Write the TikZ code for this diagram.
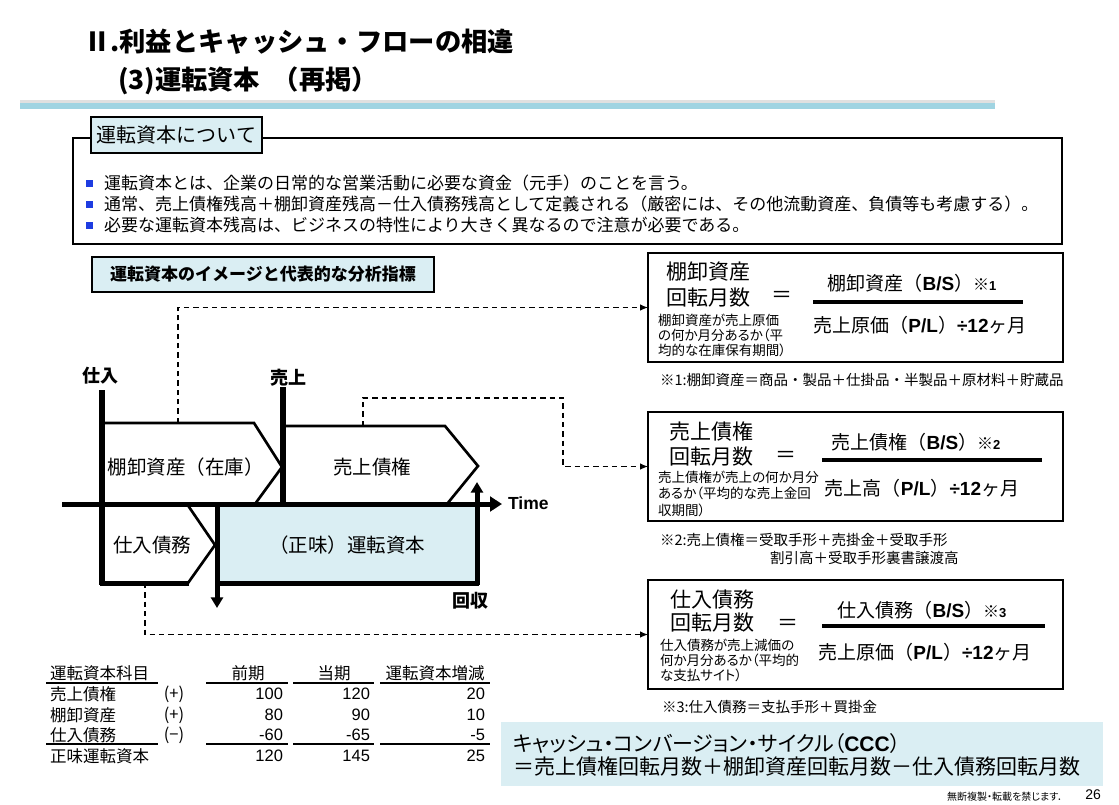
\documentclass[tikz,border=0pt]{standalone}
\usepackage{fontspec}
\setmainfont{Noto Sans CJK JP}
\newfontfamily\jpp{Noto Sans CJK JP}[RawFeature=+palt]
\newfontfamily\arial{Liberation Sans}
\usetikzlibrary{arrows.meta}
\definecolor{lb}{RGB}{218,238,243}
\definecolor{band}{RGB}{160,212,226}
\definecolor{bul}{RGB}{30,60,225}
\newcommand\fsz[2]{\fontsize{\dimexpr #1pt*3/4\relax}{\dimexpr #2pt*3/4\relax}\selectfont}
\begin{document}
\begin{tikzpicture}[x=0.75pt,y=-0.75pt,
  every node/.style={inner sep=0pt,outer sep=0pt},
  outl/.style={line width=2pt, line join=miter},
  heavy/.style={line width=3.75pt},
  conn/.style={line width=0.9pt, dash pattern=on 4pt off 3pt, -{Latex[length=6pt,width=5pt]}},
  rbox/.style={draw, line width=1.1pt, minimum width=311.25pt, minimum height=81.75pt},
  big/.style={font=\fsz{21}{25}},
  small/.style={font=\jpp\fsz{13.5}{15}, anchor=west},
  frac/.style={font=\fsz{19}{23}},
  note/.style={font=\fsz{14.5}{17}, anchor=west},
  lbl/.style={font=\fsz{19.5}{24}},
  tab/.style={font=\fsz{16.5}{19}},
  num/.style={font=\arial\fsz{16.5}{19}, anchor=east},
  bul/.style={fill=bul, minimum size=5.25pt},
  btxt/.style={anchor=west, font=\fsz{17}{20}},
  ttl/.style={anchor=west, font=\bfseries\fsz{26.3}{30}},
]
\useasboundingbox (0,0) rectangle (1119,804);
% title
\node[ttl] (title1) at (84,42) {Ⅱ.利益とキャッシュ・フローの相違};
\node[ttl] (title2) at (118,81) {(3)運転資本 \hspace{0.25em}（再掲）};
\fill[black!12] (20,100) rectangle (995,103);
\fill[band] (20,103) rectangle (995,109);
% about frame
\draw[line width=1pt] (73,138) rectangle (1062,244);
\node[draw, fill=lb, line width=1.2pt, minimum width=128.25pt, minimum height=27pt, font=\fsz{20}{24}] (about) at (176.5,135) {運転資本について};
\node[bul] (b1) at (89.5,183) {};
\node[bul] (b2) at (89.5,204) {};
\node[bul] (b3) at (89.5,225) {};
\node[btxt] (t1) at (104,183) {運転資本とは、企業の日常的な営業活動に必要な資金（元手）のことを言う。};
\node[btxt] (t2) at (104,204) {通常、売上債権残高＋棚卸資産残高－仕入債務残高として定義される（厳密には、その他流動資産、負債等も考慮する）。};
\node[btxt] (t3) at (104,225) {必要な運転資本残高は、ビジネスの特性により大きく異なるので注意が必要である。};
% image title
\node[draw, fill=lb, line width=1.2pt, minimum width=256.5pt, minimum height=26.25pt, font=\bfseries\fsz{17}{20}] (imgttl) at (263,274.5) {運転資本のイメージと代表的な分析指標};
% right boxes
\node[rbox] (box1) at (855.5,307.5) {};
\node[rbox] (box2) at (855.5,466.5) {};
\node[rbox] (box3) at (855.5,634.5) {};
% connectors
\coordinate (invtop) at (178,423);
\coordinate (artop) at (363,426);
\coordinate (arturn) at (563,398);
\coordinate (apbot) at (145,583);
\draw[conn] (invtop) |- (box1.west);
\draw[conn] (artop) |- (arturn) |- (box2.west);
\draw[conn] (apbot) |- (box3.west);
% timeline
\node[fill=lb, minimum width=195pt, minimum height=59.25pt] (netwc) at (347,543.5) {};
\draw[outl, fill=white] (102,423) -- (254,423) -- (282,467) -- (255,504);
\draw[outl, fill=white] (283,426) -- (445,426) -- (478,466) -- (447,504);
\draw[outl, fill=white] (187,504) -- (215,545) -- (188,583);
\coordinate (axL) at (62,504);
\coordinate (axR) at (502,504);
\draw[heavy, -{Triangle[length=9pt,width=11pt]}] (axL) -- (axR);
\draw[heavy] (100,583) -- (189,583);
\draw[heavy] (215,583) -- (479,583);
\draw[heavy, -{Triangle[length=8pt,width=9pt]}] (217,502) -- (217,608);
\draw[heavy, -{Triangle[length=8pt,width=9pt]}] (477,585) -- (477,482);
\draw[line width=4.5pt] (102,390) -- (102,585);
\draw[line width=4pt] (283,387) -- (283,506);
\node[font=\bfseries\fsz{18}{22}] (shiire) at (100,376) {仕入};
\node[font=\bfseries\fsz{18}{22}] (uriage) at (288,378) {売上};
\node[lbl] (inv) at (185.5,467) {棚卸資産（在庫）};
\node[lbl] (ar) at (372,467) {売上債権};
\node[lbl] (ap) at (152,545) {仕入債務};
\node[lbl] (nwc) at (347,545) {（正味）運転資本};
\node[anchor=west, font=\arial\bfseries\fsz{17.5}{20}] (time) at (508,503) {Time};
\node[font=\bfseries\fsz{18}{22}] (kaishu) at (470,601) {回収};
% box1 content
\node[big] (k1a) at (708,272) {棚卸資産};
\node[big] (k1b) at (708,298) {回転月数};
\node[big] (k1e) at (782,297) {＝};
\node[small] (k1s1) at (658,320) {棚卸資産が売上原価};
\node[small] (k1s2) at (658,335) {の何か月分あるか（平};
\node[small] (k1s3) at (658,350) {均的な在庫保有期間）};
\node[frac] (k1n) at (912,283) {棚卸資産（{\arial\bfseries B/S}）{\fsz{16}{18}※}{\arial\bfseries\fsz{13}{15}1}};
\draw[line width=3pt] (813,302) -- (1023,302);
\node[frac] (k1d) at (920,325) {売上原価（{\arial\bfseries P/L}）{\arial\bfseries ÷12}ヶ月};
\node[note] (n1) at (660,380) {※1:棚卸資産＝商品・製品＋仕掛品・半製品＋原材料＋貯蔵品};
% box2 content
\node[big] (k2a) at (711,432) {売上債権};
\node[big] (k2b) at (711,457) {回転月数};
\node[big] (k2e) at (786,457) {＝};
\node[small] (k2s1) at (658,477) {売上債権が売上の何か月分};
\node[small] (k2s2) at (658,493.5) {あるか（平均的な売上金回};
\node[small] (k2s3) at (658,510) {収期間）};
\node[frac] (k2n) at (916,442) {売上債権（{\arial\bfseries B/S}）{\fsz{16}{18}※}{\arial\bfseries\fsz{13}{15}2}};
\draw[line width=3pt] (822,460) -- (1042,460);
\node[frac] (k2d) at (922,488) {売上高（{\arial\bfseries P/L}）{\arial\bfseries ÷12}ヶ月};
\node[note] (n2a) at (660,540) {※2:売上債権＝受取手形＋売掛金＋受取手形};
\node[note] (n2b) at (770,558) {割引高＋受取手形裏書譲渡高};
% box3 content
\node[big] (k3a) at (712,600) {仕入債務};
\node[big] (k3b) at (712,623) {回転月数};
\node[big] (k3e) at (788,625) {＝};
\node[small] (k3s1) at (660,645) {仕入債務が売上減価の};
\node[small] (k3s2) at (660,660) {何か月分あるか（平均的};
\node[small] (k3s3) at (660,675) {な支払サイト）};
\node[frac] (k3n) at (922,610) {仕入債務（{\arial\bfseries B/S}）{\fsz{16}{18}※}{\arial\bfseries\fsz{13}{15}3}};
\draw[line width=3pt] (822,626) -- (1045,626);
\node[frac] (k3d) at (925,652) {売上原価（{\arial\bfseries P/L}）{\arial\bfseries ÷12}ヶ月};
\node[note] (n3) at (662,707) {※3:仕入債務＝支払手形＋買掛金};
% table
\node[tab, anchor=west] (h0) at (50,673) {運転資本科目};
\node[tab] (h1) at (248,673) {前期};
\node[tab] (h2) at (334,673) {当期};
\node[tab] (h3) at (435,673) {運転資本増減};
\foreach \yy in {683,744} {
  \draw[line width=1.6pt] (46,\yy) -- (158,\yy);
  \draw[line width=1.6pt] (206,\yy) -- (288,\yy);
  \draw[line width=1.6pt] (293,\yy) -- (374,\yy);
  \draw[line width=1.6pt] (380,\yy) -- (490,\yy);
}
\node[tab, anchor=west] (r1) at (50,694) {売上債権};
\node[tab, anchor=west] (r2) at (50,715) {棚卸資産};
\node[tab, anchor=west] (r3) at (50,735) {仕入債務};
\node[tab, anchor=west] (r4) at (50,756) {正味運転資本};
\node[tab] (s1) at (174,694) {(+)};
\node[tab] (s2) at (174,715) {(+)};
\node[tab] (s3) at (174,735) {(−)};
\node[num] (a1) at (283,694) {100};
\node[num] (a2) at (283,715) {80};
\node[num] (a3) at (283,735) {-60};
\node[num] (a4) at (283,756) {120};
\node[num] (c1) at (370,694) {120};
\node[num] (c2) at (370,715) {90};
\node[num] (c3) at (370,735) {-65};
\node[num] (c4) at (370,756) {145};
\node[num] (d1) at (485,694) {20};
\node[num] (d2) at (485,715) {10};
\node[num] (d3) at (485,735) {-5};
\node[num] (d4) at (485,756) {25};
% CCC
\node[fill=lb, minimum width=451.5pt, minimum height=48pt] (cccbox) at (802,754) {};
\node[anchor=west, font=\jpp\fsz{21}{25}] (ccc1) at (513,744) {キャッシュ・コンバージョン・サイクル（{\arial\bfseries CCC}）};
\node[anchor=west, font=\fsz{21}{25}] (ccc2) at (513,767) {＝売上債権回転月数＋棚卸資産回転月数－仕入債務回転月数};
% footer
\node[anchor=east, font=\jpp\fsz{10}{12}] (copy) at (1063,797) {無断複製・転載を禁じます．};
\node[anchor=east, font=\arial\fsz{14}{16}] (page) at (1101,795) {26};
\end{tikzpicture}
\end{document}
